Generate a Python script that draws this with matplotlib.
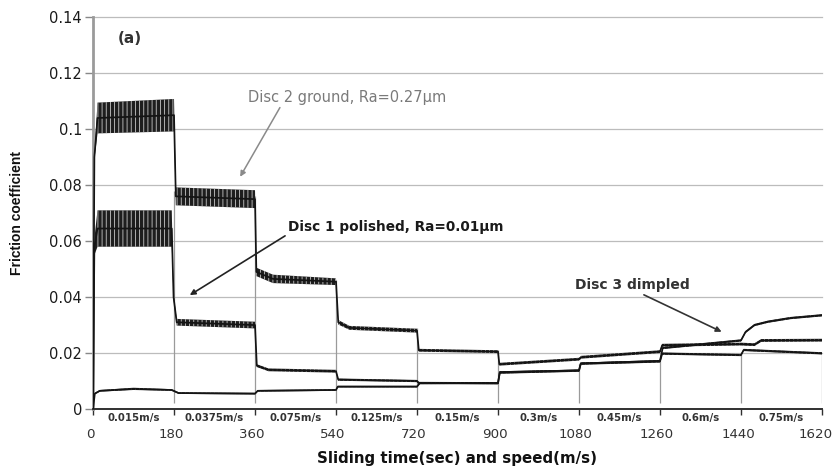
import matplotlib
matplotlib.use("Agg")
import matplotlib.pyplot as plt
import matplotlib.transforms as mtransforms
import numpy as np

plt.rcParams["hatch.linewidth"] = 0.6

# ---------------- data ----------------
# Disc 2 ground, Ra=0.27um : key points (time s, friction, noise half-band)
disc2_t = [0, 3, 10, 180, 184, 360, 363, 400, 540, 545, 570, 720, 724, 900, 903,
           1080, 1085, 1260, 1265, 1440, 1470, 1485, 1620]
disc2_mu = [0.0, 0.090, 0.104, 0.105, 0.076, 0.075, 0.049, 0.0465, 0.0455, 0.031, 0.029,
            0.028, 0.021, 0.0205, 0.0160, 0.0178, 0.0185, 0.0205, 0.0228, 0.0232,
            0.0230, 0.0245, 0.0246]
disc2_noise = [0.0, 0.001, 0.0055, 0.0058, 0.0032, 0.0032, 0.0015, 0.0015, 0.0012,
               0.0008, 0.0007, 0.0007, 0.0005, 0.0005, 0.0005, 0.0005, 0.0005, 0.0005,
               0.0005, 0.0005, 0.0005, 0.0005, 0.0005]

# Disc 1 polished, Ra=0.01um
disc1_t = [0, 3, 10, 175, 179, 186, 360, 364, 390, 540, 545, 720, 724, 900, 904,
           1080, 1084, 1260, 1265, 1440, 1446, 1620]
disc1_mu = [0.0, 0.058, 0.0645, 0.0645, 0.040, 0.031, 0.030, 0.0155, 0.0140, 0.0135,
            0.0105, 0.0100, 0.0093, 0.0092, 0.0130, 0.0137, 0.0162, 0.0170, 0.0198,
            0.0193, 0.0211, 0.0199]
disc1_noise = [0.0, 0.003, 0.0065, 0.0065, 0.001, 0.0012, 0.0012, 0.0005, 0.0005,
               0.0005, 0.0004, 0.0004, 0.0004, 0.0004, 0.0004, 0.0004, 0.0004, 0.0004,
               0.0004, 0.0004, 0.0004, 0.0004]

# Disc 3 dimpled
disc3_t = [0, 4, 15, 90, 175, 190, 360, 366, 540, 544, 720, 726, 900, 904, 1080,
           1084, 1260, 1266, 1440, 1450, 1470, 1500, 1550, 1620]
disc3_mu = [0.0, 0.0055, 0.0065, 0.0072, 0.0068, 0.0057, 0.0055, 0.0065, 0.0068,
            0.0080, 0.0080, 0.0092, 0.0093, 0.0132, 0.0138, 0.0163, 0.0172, 0.0218,
            0.0245, 0.0275, 0.0300, 0.0312, 0.0325, 0.0335]
disc3_noise = [0.0, 0.0003, 0.0003, 0.0004, 0.0003, 0.0003, 0.0003, 0.0003, 0.0003,
               0.0003, 0.0003, 0.0003, 0.0003, 0.0003, 0.0003, 0.0003, 0.0003, 0.0004,
               0.0004, 0.0004, 0.0004, 0.0004, 0.0004, 0.0004]

# speed-step boundaries and the grey drop lines seen at them
boundaries = [180, 360, 540, 720, 900, 1080, 1260, 1440, 1620]
drop_tops = [0.078, 0.076, 0.046, 0.029, 0.021, 0.016, 0.017, 0.020, 0.020]

speed_labels = ["0.015m/s", "0.0375m/s", "0.075m/s", "0.125m/s", "0.15m/s",
                "0.3m/s", "0.45m/s", "0.6m/s", "0.75m/s"]
x_ticks = [0, 180, 360, 540, 720, 900, 1080, 1260, 1440, 1620]
x_ticklabels = ["0", "180", "360", "540", "720", "900", "1080", "1260", "1440", "1620"]
y_ticks = [0, 0.02, 0.04, 0.06, 0.08, 0.10, 0.12, 0.14]
y_ticklabels = ["0", "0.02", "0.04", "0.06", "0.08", "0.1", "0.12", "0.14"]

# ---------------- figure ----------------
fig = plt.figure(figsize=(8.35, 4.69), dpi=100)
ax = fig.add_axes([0.1114, 0.1279, 0.8730, 0.8359])
ax.set_xlim(0, 1620)
ax.set_ylim(0, 0.1401)

# grid
for yv in y_ticks[1:]:
    ax.axhline(yv, color="#bcbcbc", lw=0.9, zorder=0, clip_on=False)

# grey drop lines at speed changes
ax.vlines(boundaries, 0.002, drop_tops, colors="#9a9a9a", lw=0.9, zorder=1)

for t, mu, nz in [(disc2_t, disc2_mu, disc2_noise),
                  (disc1_t, disc1_mu, disc1_noise),
                  (disc3_t, disc3_mu, disc3_noise)]:
    t = np.asarray(t, float)
    mu = np.asarray(mu, float)
    nz = np.asarray(nz, float)
    ax.fill_between(t, mu - nz, mu + nz, facecolor="#1e1e1e", edgecolor="#c8c8c8",
                    hatch="||||", lw=0, zorder=2)
    ax.plot(t, mu, color="#141414", lw=1.25, zorder=3)

# spines
for s in ["top", "right"]:
    ax.spines[s].set_visible(False)
ax.spines["left"].set_color("#9a9a9a")
ax.spines["left"].set_linewidth(2.0)
ax.spines["bottom"].set_color("#303030")
ax.spines["bottom"].set_linewidth(1.4)

ax.set_xticks(x_ticks)
ax.set_xticklabels(x_ticklabels, fontsize=9.6, color="#333333", family="DejaVu Sans")
ax.set_yticks(y_ticks)
ax.set_yticklabels(y_ticklabels, fontsize=10.5, color="#1a1a1a", family="DejaVu Sans")
ax.tick_params(axis="x", direction="out", length=4, width=1.0, color="#303030", pad=10)
ax.tick_params(axis="y", direction="out", length=6, width=1.0, color="#888888", pad=2)

# nudge the x tick labels slightly left, as in the reference (last one most)
xlabels = ax.get_xticklabels()
for i, lab in enumerate(xlabels):
    dx = -3.0 if i < len(xlabels) - 1 else -6.5
    lab.set_transform(lab.get_transform() +
                      mtransforms.ScaledTranslation(dx / 100, 0, fig.dpi_scale_trans))

# speed labels under the axis line
for i, lab in enumerate(speed_labels):
    xc = (x_ticks[i] + x_ticks[i + 1]) / 2
    ax.text(xc, -0.0033, lab, ha="center", va="center", fontsize=7.3,
            fontweight="bold", color="#333333", family="DejaVu Sans", clip_on=False)

ax.set_xlabel("Sliding time(sec) and speed(m/s)", fontsize=10.8, fontweight="bold",
              family="DejaVu Sans", color="#111111", labelpad=7)
ax.set_ylabel("Friction coefficient", fontsize=10, fontweight="bold",
              family="Liberation Sans", color="#111111", labelpad=18)

ax.text(56, 0.1325, "(a)", fontsize=11, fontweight="bold", color="#333333",
        va="center", ha="left")

ax.annotate("Disc 2 ground, Ra=0.27\u03bcm", xy=(327, 0.083), xytext=(344, 0.1114),
            fontsize=10.5, color="#7a7a7a", va="center", ha="left",
            arrowprops=dict(arrowstyle="-|>", color="#8a8a8a", lw=1.1,
                            mutation_scale=8, shrinkA=0, shrinkB=0,
                            relpos=(0.17, 0.0)))
ax.annotate("Disc 1 polished, Ra=0.01\u03bcm", xy=(215, 0.0407), xytext=(433, 0.0650),
            fontsize=9.8, fontweight="bold", color="#1a1a1a", va="center", ha="left",
            arrowprops=dict(arrowstyle="-|>", color="#222222", lw=1.2,
                            mutation_scale=8, shrinkA=0, shrinkB=0,
                            relpos=(0.0, 0.0)))
ax.annotate("Disc 3 dimpled", xy=(1397, 0.0276), xytext=(1071, 0.0443),
            fontsize=10, fontweight="bold", color="#333333", va="center", ha="left",
            arrowprops=dict(arrowstyle="-|>", color="#333333", lw=1.2,
                            mutation_scale=8, shrinkA=0, shrinkB=0,
                            relpos=(0.55, 0.0)))

fig.savefig("out.png", dpi=100)
